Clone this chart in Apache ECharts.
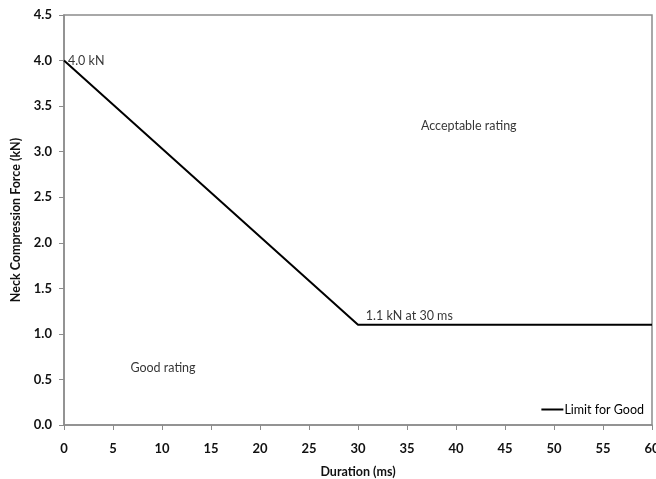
<!DOCTYPE html>
<html>
<head>
<meta charset="utf-8">
<script src="https://cdn.jsdelivr.net/npm/echarts@6/dist/echarts.min.js"></script>
<style>
html,body{margin:0;padding:0;background:#fff;}
#chart{width:656px;height:479px;}
</style>
</head>
<body>
<div id="chart"></div>
<script>
// Limit for Good: neck compression force vs. duration
const durations = [0, 30, 60];
const forces = [4.0, 1.1, 1.1];

// Text annotations placed in data space
const noteX = [0.4, 41.3, 30.8, 10.1];
const noteY = [4.0, 3.28, 1.2, 0.63];
const noteText = ['4.0 kN', 'Acceptable rating', '1.1 kN at 30 ms', 'Good rating'];
const noteAlign = ['left', 'center', 'left', 'center'];

const xMin = 0, xMax = 60, xStep = 5;
const yMin = 0, yMax = 4.5, yStep = 0.5;

const FONT = 'Lato';
const axisGrey = '#8c8c8c';

const chart = echarts.init(document.getElementById('chart'));
chart.setOption({
  animation: false,
  backgroundColor: '#fff',
  textStyle: { fontFamily: FONT },
  grid: {
    left: 64, right: 4, top: 15, bottom: 54,
    containLabel: false,
    outerBoundsMode: 'none',
    show: true, borderColor: axisGrey, borderWidth: 1.5, backgroundColor: 'transparent'
  },
  legend: {
    right: 7, bottom: 58,
    itemWidth: 22, itemHeight: 2, itemGap: 0,
    textStyle: { fontFamily: FONT, fontSize: 12.5, color: '#000', padding: [0, 0, 0, -4] },
    data: [{ name: 'Limit for Good', icon: 'rect' }]
  },
  xAxis: {
    type: 'value', min: xMin, max: xMax, interval: xStep,
    name: 'Duration (ms)', nameLocation: 'middle', nameGap: 40,
    nameTextStyle: { fontFamily: FONT, fontSize: 12.5, fontWeight: 'bold', color: '#111' },
    axisLine: { lineStyle: { color: axisGrey, width: 1.5 } },
    axisTick: { show: true, length: 5, lineStyle: { color: axisGrey } },
    axisLabel: { fontFamily: FONT, fontSize: 13, fontWeight: 'bold', color: '#111', margin: 17 },
    splitLine: { show: false }
  },
  yAxis: {
    type: 'value', min: yMin, max: yMax, interval: yStep,
    name: 'Neck Compression Force (kN)', nameLocation: 'middle', nameGap: 36,
    nameTextStyle: { fontFamily: FONT, fontSize: 12.5, fontWeight: 'bold', color: '#111' },
    axisLine: { show: true, lineStyle: { color: axisGrey, width: 1.5 } },
    axisTick: { show: true, length: 5, lineStyle: { color: axisGrey } },
    axisLabel: {
      fontFamily: FONT, fontSize: 13, fontWeight: 'bold', color: '#111', margin: 12,
      formatter: v => v.toFixed(1)
    },
    splitLine: { show: false }
  },
  series: [
    {
      name: 'Limit for Good',
      type: 'line',
      data: durations.map((d, i) => [d, forces[i]]),
      symbol: 'none',
      color: '#000',
      lineStyle: { color: '#000', width: 2 }
    },
    {
      name: 'notes',
      type: 'scatter',
      symbolSize: 0,
      silent: true,
      data: noteX.map((x, i) => ({
        value: [x, noteY[i]],
        label: {
          show: true,
          position: 'inside',
          align: noteAlign[i],
          verticalAlign: 'middle',
          formatter: noteText[i],
          fontFamily: FONT, fontSize: 12.5, color: '#000'
        }
      }))
    }
  ]
});
</script>
</body>
</html>
